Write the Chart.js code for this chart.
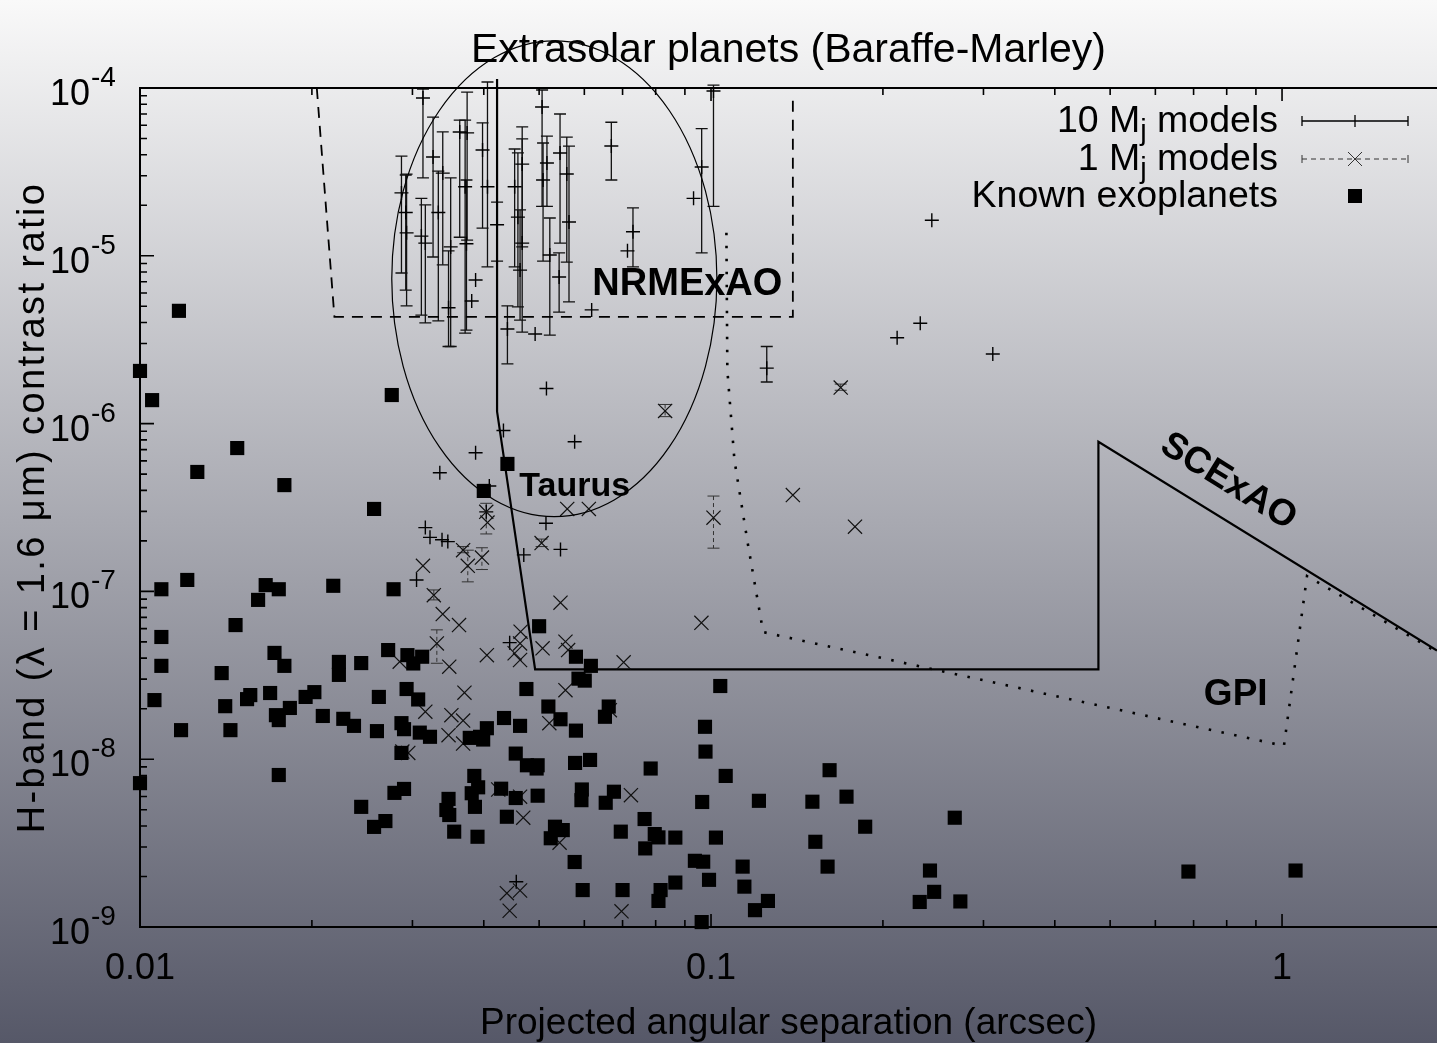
<!DOCTYPE html>
<html>
<head>
<meta charset="utf-8">
<title>Extrasolar planets (Baraffe-Marley)</title>
<script src="https://cdn.jsdelivr.net/npm/chart.js@4.4.0/dist/chart.umd.min.js"></script>
<style>
html, body { margin: 0; padding: 0; overflow: hidden; background: #fff; }
canvas { display: block; }
</style>
</head>
<body>
<canvas id="chart" width="1437" height="1043"></canvas>
<script>
// Known exoplanets (separation in arcsec, H-band contrast)
var planetX = [
	0.010, 0.0105, 0.0117, 0.010, 0.0109, 0.0121, 0.0166, 0.0175, 0.0161, 0.0218,
	0.0278, 0.0147, 0.0109, 0.0109, 0.0139, 0.0172, 0.0179, 0.0223, 0.0223, 0.0244,
	0.0272, 0.0294, 0.0106, 0.0141, 0.0154, 0.0156, 0.0169, 0.0173, 0.0175, 0.0183,
	0.0195, 0.0202, 0.0209, 0.0227, 0.0237, 0.0260, 0.0262, 0.0293, 0.0118, 0.0144,
	0.0287, 0.0290, 0.0287, 0.0175, 0.0244, 0.0257, 0.0269, 0.0279, 0.0290, 0.0276,
	0.0148, 0.0126, 0.0179, 0.0257, 0.0440, 0.0400, 0.0500, 0.0312, 0.0301, 0.0580,
	0.0616, 0.0586, 0.0601, 0.1038, 0.0475, 0.0307, 0.0519, 0.0662, 0.0652, 0.0545,
	0.0434, 0.0463, 0.0580, 0.0976, 0.0309, 0.0322, 0.0405, 0.0394, 0.0378, 0.0399,
	0.0978, 0.0455, 0.0476, 0.0497, 0.0495, 0.0578, 0.0614, 0.0784, 0.1061, 0.1613,
	0.0385, 0.0347, 0.0344, 0.0348, 0.0381, 0.0391, 0.0386, 0.0429, 0.0455, 0.0497,
	0.0439, 0.0355, 0.0390, 0.0533, 0.0550, 0.0524, 0.0594, 0.0593, 0.0676, 0.0654,
	0.0695, 0.0765, 0.0797, 0.0809, 0.0767, 0.0866, 0.0965, 0.1020, 0.1213, 0.1505,
	0.1523, 0.160, 0.0577, 0.0937, 0.0969, 0.1136, 0.0596, 0.0700, 0.0816, 0.0809,
	0.0866, 0.0992, 0.1144, 0.1258, 0.1194, 0.0963, 0.1727, 0.1862, 0.2672, 0.2418,
	0.2459, 0.2320, 0.2733, 0.6856, 1.056
];
var planetY = [
	2.06e-6, 1.38e-6, 4.7e-6, 7.2e-9, 1.03e-7, 1.17e-7, 1.09e-7, 1.03e-7, 8.9e-8, 1.08e-7,
	1.03e-7, 6.3e-8, 5.35e-8, 3.6e-8, 3.26e-8, 4.3e-8, 3.6e-8, 3.8e-8, 3.18e-8, 3.74e-8,
	4.47e-8, 4.17e-8, 2.25e-8, 2.07e-8, 2.28e-8, 2.41e-8, 2.48e-8, 1.83e-8, 1.71e-8, 2.02e-8,
	2.35e-8, 2.51e-8, 1.81e-8, 1.74e-8, 1.58e-8, 1.47e-8, 2.35e-8, 2.62e-8, 1.49e-8, 1.49e-8,
	1.64e-8, 1.51e-8, 1.09e-8, 8.05e-9, 5.2e-9, 3.95e-9, 4.28e-9, 6.3e-9, 6.65e-9, 1.48e-6,
	7.15e-7, 5.15e-7, 4.3e-7, 3.1e-7, 5.75e-7, 3.97e-7, 6.2e-8, 4.08e-8, 3.72e-8, 4.08e-8,
	3.6e-8, 3.02e-8, 2.94e-8, 2.73e-8, 2.62e-8, 2.27e-8, 2.06e-8, 2.06e-8, 1.79e-8, 1.73e-8,
	1.76e-8, 1.58e-8, 1.48e-8, 1.56e-8, 1.44e-8, 1.36e-8, 1.53e-8, 1.36e-8, 1.34e-8, 1.31e-8,
	1.11e-8, 1.08e-8, 9.2e-9, 9.2e-9, 8.8e-9, 9.5e-9, 9.9e-9, 8.8e-9, 7.95e-9, 8.6e-9,
	7.95e-9, 5.8e-9, 4.98e-9, 4.65e-9, 6.27e-9, 6.8e-9, 5.2e-9, 6.67e-9, 5.87e-9, 6.06e-9,
	4.54e-9, 3.7e-9, 3.45e-9, 3.96e-9, 3.78e-9, 3.38e-9, 6.6e-9, 5.7e-9, 6.4e-9, 5.5e-9,
	3.7e-9, 4.4e-9, 3.58e-9, 3.42e-9, 2.94e-9, 3.41e-9, 5.56e-9, 3.41e-9, 5.65e-9, 5.58e-9,
	3.22e-9, 2.29e-9, 2.44e-9, 2.48e-9, 2.45e-9, 2.29e-9, 1.66e-9, 1.66e-9, 1.66e-9, 1.43e-9,
	1.84e-9, 1.91e-9, 1.74e-9, 1.43e-9, 1.26e-9, 1.07e-9, 5.98e-9, 3.96e-9, 4.48e-9, 2.17e-9,
	1.62e-9, 1.41e-9, 1.42e-9, 2.14e-9, 2.17e-9
];

// 10 Mj models: the first entries carry error bars (lo / hi)
var tenMjX = [
	0.0287, 0.0293, 0.0292, 0.0313, 0.0311, 0.0316, 0.0326, 0.0333, 0.0339, 0.0350,
	0.0347, 0.0363, 0.0374, 0.0371, 0.0373, 0.0398, 0.0406, 0.0422, 0.0453, 0.0459,
	0.0467, 0.0467, 0.0463, 0.0506, 0.0508, 0.0516, 0.0522, 0.0544, 0.0542, 0.0559,
	0.0564, 0.0669, 0.0730, 0.0963, 0.1010, 0.0440, 0.1252,
	0.0932, 0.0387, 0.0381, 0.0618, 0.0492, 0.0714, 0.0515, 0.0433, 0.0577, 0.0387,
	0.0335, 0.2436, 0.2325, 0.2118, 0.3115, 0.0409, 0.0316, 0.0322, 0.0338, 0.0346,
	0.0514, 0.0470, 0.0545, 0.0305, 0.0404, 0.0444, 0.0456
];
var tenMjY = [
	2.37e-5, 1.37e-5, 1.81e-5, 8.72e-5, 1.31e-5, 1.19e-5, 3.88e-5, 1.81e-5, 3.11e-5, 1.13e-5,
	4.9e-6, 5.47e-5, 5.4e-5, 2.58e-5, 1.18e-5, 4.27e-5, 2.58e-5, 1.53e-5, 2.58e-5, 1.70e-5,
	3.52e-5, 1.19e-5, 8.22e-6, 7.7e-5, 2.83e-5, 3.57e-5, 1.01e-5, 4.1e-5, 7.48e-6, 3.07e-5,
	1.59e-5, 4.51e-5, 1.39e-5, 3.38e-5, 9.6e-5, 3.66e-6, 2.14e-6,
	2.2e-5, 7.18e-6, 5.38e-6, 4.76e-6, 3.42e-6, 1.07e-5, 1.62e-6, 9.1e-7, 7.8e-7, 6.7e-7,
	5.09e-7, 1.63e-5, 3.96e-6, 3.25e-6, 2.6e-6, 4.25e-7, 2.4e-7, 2.1e-7, 2.03e-7, 1.98e-7,
	2.55e-7, 1.65e-7, 1.78e-7, 1.17e-7, 2.98e-7, 4.95e-8, 1.86e-9
];
var tenMjLo = [
	7.9e-6, 5.03e-6, 6.25e-6, 2.91e-5, 4.43e-6, 3.98e-6, 9.84e-6, 4.09e-6, 8.84e-6, 2.88e-6,
	2.88e-6, 1.29e-5, 1.24e-5, 3.46e-6, 3.61e-6, 1.46e-5, 8.58e-6, 9.3e-6, 8.58e-6, 4.96e-6,
	1.13e-5, 3.51e-6, 4.14e-6, 1.97e-5, 9.3e-6, 1.97e-5, 3.37e-6, 1.19e-5, 4.62e-6, 9.17e-6,
	5.31e-6, 2.83e-5, 8.58e-6, 1.04e-5, 1.97e-5, 2.27e-6, 1.77e-6
];
var tenMjHi = [
	3.93e-5, 3.07e-5, 3.03e-5, 9.86e-5, 2.2e-5, 2.01e-5, 6.7e-5, 3.2e-5, 5.47e-5, 2.91e-5,
	1.07e-5, 6.44e-5, 9.45e-5, 6.44e-5, 2.83e-5, 6.2e-5, 1.086e-4, 2.09e-5, 4.33e-5, 4.1e-5,
	5.86e-5, 4.97e-5, 1.88e-5, 9.73e-5, 4.7e-5, 5.17e-5, 1.68e-5, 7.0e-5, 1.04e-5, 5.1e-5,
	4.51e-5, 6.25e-5, 1.93e-5, 5.72e-5, 1.04e-4, 5.03e-6, 2.88e-6
];

// 1 Mj models: the first entries carry error bars (lo / hi)
var oneMjX = [
	0.0404, 0.0368, 0.0375, 0.0397, 0.0327, 0.0331, 0.0505, 0.1010, 0.1687, 0.0831,
	0.0406, 0.0313, 0.0339, 0.0362, 0.0464, 0.0560, 0.0611, 0.0348, 0.0285, 0.0405,
	0.0463, 0.0453, 0.0463, 0.0507, 0.0556, 0.0562, 0.0545, 0.0703, 0.0556, 0.0962,
	0.1391, 0.0370, 0.0316, 0.0351, 0.0368, 0.0347, 0.0368, 0.0288, 0.0521, 0.0665,
	0.0724, 0.0424, 0.0463, 0.0469, 0.0543, 0.0295, 0.0439, 0.0463, 0.0444, 0.0697,
	0.1787
];
var oneMjY = [
	2.98e-7, 1.76e-7, 1.42e-7, 1.59e-7, 9.5e-8, 4.9e-8, 1.94e-7, 2.75e-7, 1.64e-6, 1.19e-6,
	2.57e-7, 1.42e-7, 7.33e-8, 6.3e-8, 5.75e-8, 3.1e-7, 3.1e-7, 3.56e-8, 3.81e-8, 4.17e-8,
	4.9e-8, 4.28e-8, 3.9e-8, 4.58e-8, 5.02e-8, 4.47e-8, 8.57e-8, 3.78e-8, 2.58e-8, 6.5e-8,
	3.75e-7, 2.49e-8, 1.92e-8, 1.83e-8, 1.70e-8, 1.39e-8, 1.24e-8, 1.11e-8, 1.64e-8, 1.96e-8,
	6.1e-9, 6.6e-9, 5.98e-9, 4.48e-9, 3.18e-9, 1.09e-8, 1.59e-9, 1.65e-9, 1.25e-9, 1.24e-9,
	2.43e-7
];
var oneMjLo = [2.2e-7, 1.7e-7, 1.14e-7, 1.35e-7, 8.9e-8, 3.73e-8, 1.85e-7, 1.81e-7, 1.58e-6, 1.1e-6];
var oneMjHi = [3.35e-7, 1.85e-7, 1.76e-7, 1.82e-7, 1.02e-7, 5.9e-8, 2.05e-7, 3.7e-7, 1.72e-6, 1.3e-6];

// instrument contrast curves
var scexaoX = [0.0422, 0.0422, 0.0492, 0.4769, 0.4769, 1.868];
var scexaoY = [1.13e-4, 1.18e-6, 3.43e-8, 3.43e-8, 7.8e-7, 4.44e-8];
var gpiX = [0.1064, 0.1068, 0.1099, 0.1161, 0.1234, 1.0077, 1.106, 1.868];
var gpiY = [1.37e-5, 2.09e-6, 6.06e-7, 1.89e-7, 5.72e-8, 1.2e-8, 1.235e-7, 4.35e-8];
var nrmX = [0.0204, 0.0219, 0.1391, 0.1391];
var nrmY = [1e-4, 4.33e-6, 4.33e-6, 8.5e-5];

// Taurus region (bounding box in data units)
var taurusX = [0.0276, 0.1024];
var taurusY = [2.79e-7, 1.91e-4];

// region labels
var labelText = ["NRMExAO", "Taurus", "SCExAO", "GPI"];
var labelX = [0.0909, 0.0577, 0.805, 0.8297];
var labelY = [6.7e-6, 4.2e-7, 4.5e-7, 2.41e-8];

// axes
var xTickValues = [0.01, 0.1, 1];
var xTickLabels = ["0.01", "0.1", "1"];
var yTickValues = [1e-4, 1e-5, 1e-6, 1e-7, 1e-8, 1e-9];
var yTickExponents = ["-4", "-5", "-6", "-7", "-8", "-9"];
var xMin = 0.01, xMax = 1.868, yMin = 1e-9, yMax = 1e-4;

var FAMILY = "'Liberation Sans', Arial, Helvetica, sans-serif";

function font(size, bold) {
	return (bold ? "bold " : "") + size + "px " + FAMILY;
}

function points(xs, ys) {
	var out = [];
	for (var i = 0; i < xs.length; i++) {
		out.push({ x: xs[i], y: ys[i] });
	}
	return out;
}

function drawBars(chart, xs, lo, hi, dashed) {
	var c = chart.ctx;
	var sx = chart.scales.x, sy = chart.scales.y;
	c.save();
	c.strokeStyle = dashed ? "#333" : "#111";
	c.lineWidth = dashed ? 1 : 1.3;
	for (var i = 0; i < hi.length; i++) {
		var px = sx.getPixelForValue(xs[i]);
		var top = sy.getPixelForValue(hi[i]);
		var bot = sy.getPixelForValue(lo[i]);
		c.setLineDash(dashed ? [4, 3] : []);
		c.beginPath();
		c.moveTo(px, top);
		c.lineTo(px, bot);
		c.stroke();
		c.setLineDash([]);
		c.beginPath();
		c.moveTo(px - 6, top);
		c.lineTo(px + 6, top);
		c.moveTo(px - 6, bot);
		c.lineTo(px + 6, bot);
		c.stroke();
	}
	c.restore();
}

var backdrop = {
	id: "backdrop",
	beforeDraw: function (chart) {
		var c = chart.ctx;
		var g = c.createLinearGradient(0, 0, 0, chart.height);
		g.addColorStop(0, "rgb(249,249,249)");
		g.addColorStop(0.5, "rgb(168,169,177)");
		g.addColorStop(1, "rgb(86,88,104)");
		c.save();
		c.fillStyle = g;
		c.fillRect(0, 0, chart.width, chart.height);
		c.restore();
	},
	beforeDatasetsDraw: function (chart) {
		drawBars(chart, tenMjX, tenMjLo, tenMjHi, false);
		drawBars(chart, oneMjX, oneMjLo, oneMjHi, true);
	}
};

var overlay = {
	id: "overlay",
	afterDatasetsDraw: function (chart) {
		var c = chart.ctx;
		var sx = chart.scales.x, sy = chart.scales.y;

		// Taurus ellipse
		var l = sx.getPixelForValue(taurusX[0]), r = sx.getPixelForValue(taurusX[1]);
		var t = sy.getPixelForValue(taurusY[1]), b = sy.getPixelForValue(taurusY[0]);
		c.save();
		c.strokeStyle = "#000";
		c.lineWidth = 1.2;
		c.beginPath();
		c.ellipse((l + r) / 2, (t + b) / 2, (r - l) / 2, (b - t) / 2, 0, 0, 2 * Math.PI);
		c.stroke();

		// region labels
		var sizes = [38, 34, 37, 37];
		var ax = sx.getPixelForValue(scexaoX[4]), ay = sy.getPixelForValue(scexaoY[4]);
		var bx = sx.getPixelForValue(scexaoX[5]), by = sy.getPixelForValue(scexaoY[5]);
		var slope = Math.atan2(by - ay, bx - ax);
		c.fillStyle = "#000";
		c.textAlign = "center";
		c.textBaseline = "middle";
		for (var i = 0; i < labelText.length; i++) {
			c.save();
			c.translate(sx.getPixelForValue(labelX[i]), sy.getPixelForValue(labelY[i]));
			if (labelText[i] === "SCExAO") c.rotate(slope);
			c.font = font(sizes[i], true);
			c.fillText(labelText[i], 0, 0);
			c.restore();
		}
		c.restore();
	},
	afterDraw: function (chart) {
		var c = chart.ctx;
		var a = chart.chartArea;
		var sx = chart.scales.x, sy = chart.scales.y;
		var i, m, v, p;
		c.save();
		c.strokeStyle = "#000";
		c.lineWidth = 2;
		c.beginPath();
		c.moveTo(a.right, a.top);
		c.lineTo(a.left, a.top);
		c.lineTo(a.left, a.bottom);
		c.lineTo(a.right, a.bottom);
		c.stroke();

		// ticks, pointing inwards, mirrored on top
		c.lineWidth = 1.6;
		c.beginPath();
		for (i = 0; i < xTickValues.length; i++) {
			for (m = 1; m <= 9; m++) {
				v = xTickValues[i] * m;
				if (v > xMax) continue;
				p = sx.getPixelForValue(v);
				var lx = m === 1 ? 13 : 7;
				c.moveTo(p, a.bottom);
				c.lineTo(p, a.bottom - lx);
				c.moveTo(p, a.top);
				c.lineTo(p, a.top + lx);
			}
		}
		for (i = 0; i < yTickValues.length; i++) {
			for (m = 1; m <= 9; m++) {
				v = yTickValues[i] * m;
				if (v > yMax * 1.0001) continue;
				p = sy.getPixelForValue(v);
				var ly = m === 1 ? 14 : 7;
				c.moveTo(a.left, p);
				c.lineTo(a.left + ly, p);
			}
		}
		c.stroke();

		// tick labels
		c.fillStyle = "#000";
		c.textBaseline = "alphabetic";
		c.textAlign = "center";
		c.font = font(36);
		for (i = 0; i < xTickValues.length; i++) {
			c.fillText(xTickLabels[i], sx.getPixelForValue(xTickValues[i]), a.bottom + 52);
		}
		for (i = 0; i < yTickValues.length; i++) {
			p = sy.getPixelForValue(yTickValues[i]);
			c.textAlign = "right";
			c.font = font(36);
			c.fillText("10", 90, p + 17);
			c.textAlign = "left";
			c.font = font(28);
			c.fillText(yTickExponents[i], 91, p - 2);
		}

		// titles
		c.textAlign = "center";
		c.font = font(41);
		c.fillText("Extrasolar planets (Baraffe-Marley)", (a.left + a.right) / 2, 62);
		c.font = font(37);
		c.fillText("Projected angular separation (arcsec)", (a.left + a.right) / 2, 1034);
		c.save();
		c.translate(44, (a.top + a.bottom) / 2);
		c.rotate(-Math.PI / 2);
		c.font = font(38);
		if ("letterSpacing" in c) c.letterSpacing = "2.4px";
		c.fillText("H-band (\u03BB = 1.6 \u03BCm) contrast ratio", 0, 0);
		c.restore();

		drawLegend(c);
		c.restore();
	}
};

function drawLegend(c) {
	var rows = [121, 159, 196];
	var parts = [["10 M", "j", " models"], ["1 M", "j", " models"], ["Known exoplanets", "", ""]];
	var right = 1278, s1 = 1302, s2 = 1408, mid = 1355;
	var big = 37.5, small = 29;
	var i;
	c.fillStyle = "#000";
	c.textAlign = "left";
	c.textBaseline = "alphabetic";
	for (i = 0; i < rows.length; i++) {
		c.font = font(big);
		var w1 = c.measureText(parts[i][0]).width;
		var w3 = c.measureText(parts[i][2]).width;
		c.font = font(small);
		var w2 = c.measureText(parts[i][1]).width;
		var x0 = right - w1 - w2 - w3;
		var base = rows[i] + 11;
		c.font = font(big);
		c.fillText(parts[i][0], x0, base);
		c.font = font(small);
		c.fillText(parts[i][1], x0 + w1, base + 8);
		c.font = font(big);
		c.fillText(parts[i][2], x0 + w1 + w2, base);
	}
	// 10 Mj sample
	c.strokeStyle = "#000";
	c.lineWidth = 1.3;
	c.beginPath();
	c.moveTo(s1, rows[0]); c.lineTo(s2, rows[0]);
	c.moveTo(s1, rows[0] - 5); c.lineTo(s1, rows[0] + 5);
	c.moveTo(s2, rows[0] - 5); c.lineTo(s2, rows[0] + 5);
	c.moveTo(mid, rows[0] - 6); c.lineTo(mid, rows[0] + 6);
	c.stroke();
	// 1 Mj sample
	c.strokeStyle = "#333";
	c.lineWidth = 1;
	c.setLineDash([5, 4]);
	c.beginPath();
	c.moveTo(s1, rows[1]); c.lineTo(s2, rows[1]);
	c.stroke();
	c.setLineDash([]);
	c.beginPath();
	c.moveTo(s1, rows[1] - 4); c.lineTo(s1, rows[1] + 4);
	c.moveTo(s2, rows[1] - 4); c.lineTo(s2, rows[1] + 4);
	c.moveTo(mid - 7, rows[1] - 7); c.lineTo(mid + 7, rows[1] + 7);
	c.moveTo(mid - 7, rows[1] + 7); c.lineTo(mid + 7, rows[1] - 7);
	c.stroke();
	// exoplanet sample
	c.fillStyle = "#000";
	c.fillRect(mid - 7, rows[2] - 7, 14, 14);
}

var ctx = document.getElementById("chart").getContext("2d");

new Chart(ctx, {
	type: "scatter",
	data: {
		datasets: [
			{
				label: "Known exoplanets",
				data: points(planetX, planetY),
				pointStyle: "rect",
				pointRadius: 10,
				backgroundColor: "#000",
				borderColor: "#000",
				borderWidth: 0,
				clip: 12
			},
			{
				label: "1 Mj models",
				data: points(oneMjX, oneMjY),
				pointStyle: "crossRot",
				pointRadius: 10,
				borderColor: "#111",
				borderWidth: 1.2
			},
			{
				label: "10 Mj models",
				data: points(tenMjX, tenMjY),
				pointStyle: "cross",
				pointRadius: 7,
				borderColor: "#000",
				borderWidth: 1.4
			},
			{
				label: "SCExAO",
				type: "line",
				data: points(scexaoX, scexaoY),
				borderColor: "#000",
				borderWidth: 2.2,
				pointRadius: 0,
				fill: false,
				tension: 0,
				clip: 20
			},
			{
				label: "GPI",
				type: "line",
				data: points(gpiX, gpiY),
				borderColor: "#000",
				borderWidth: 2.6,
				borderDash: [2.5, 10.5],
				pointRadius: 0,
				fill: false,
				tension: 0
			},
			{
				label: "NRMExAO",
				type: "line",
				data: points(nrmX, nrmY),
				borderColor: "#000",
				borderWidth: 1.8,
				borderDash: [11, 8],
				pointRadius: 0,
				fill: false,
				tension: 0
			}
		]
	},
	options: {
		responsive: false,
		animation: false,
		devicePixelRatio: 1,
		events: [],
		layout: { padding: { top: 88, left: 0, right: 0, bottom: 0 }, autoPadding: false },
		plugins: {
			legend: { display: false },
			title: { display: false },
			tooltip: { enabled: false }
		},
		scales: {
			x: {
				type: "logarithmic",
				min: xMin,
				max: xMax,
				ticks: { display: false },
				grid: { display: false },
				border: { display: false },
				afterFit: function (s) { s.height = 116; }
			},
			y: {
				type: "logarithmic",
				min: yMin,
				max: yMax,
				ticks: { display: false },
				grid: { display: false },
				border: { display: false },
				afterFit: function (s) { s.width = 140; }
			}
		}
	},
	plugins: [backdrop, overlay]
});
</script>
</body>
</html>
